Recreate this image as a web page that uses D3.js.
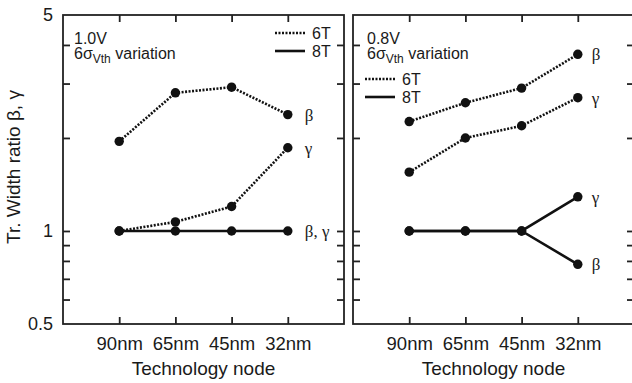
<!DOCTYPE html>
<html><head><meta charset="utf-8">
<script src="https://cdn.jsdelivr.net/npm/d3@7"></script>
<style>
body{margin:0;background:#fff;}
svg{display:block;}
text{fill:#1a1a1a;}
</style></head>
<body>
<svg id="c" width="632" height="383"></svg>
<script>
// ---- data ----
const nodes = ["90nm", "65nm", "45nm", "32nm"];
const left6TBeta = [1.95, 2.80, 2.92, 2.38];
const left6TGamma = [1.00, 1.07, 1.20, 1.86];
const left8T = [1.00, 1.00, 1.00, 1.00];
const right6TBeta = [2.26, 2.60, 2.90, 3.73];
const right6TGamma = [1.55, 2.00, 2.19, 2.70];
const right8TBeta = [1.00, 1.00, 1.00, 0.78];
const right8TGamma = [1.00, 1.00, 1.00, 1.29];
const yTickValues = [0.6, 0.7, 0.8, 0.9, 1, 2, 3, 4];
const yTickLabels = [0.5, 1, 5];

const svg = d3.select("#c");
const W = 281, H = 309;
const x = d3.scalePoint().domain(nodes).range([0, W]).padding(1);
const y = d3.scaleLog().domain([0.5, 5]).range([H, 0]);
const sans = "'Liberation Sans', Arial, Helvetica, sans-serif";
const serif = "'Liberation Serif', 'Times New Roman', serif";

function panel(tx, cfg) {
  const g = svg.append("g").attr("transform", `translate(${tx},15)`);
  // ticks (inward)
  const tickStyle = sel => { sel.select(".domain").remove(); sel.selectAll(".tick line").attr("stroke", "#222").attr("stroke-width", 1.8); };
  g.append("g").call(d3.axisLeft(y).tickValues(yTickValues).tickSize(-7).tickFormat("")).call(tickStyle);
  g.append("g").attr("transform", `translate(${W},0)`).call(d3.axisRight(y).tickValues(yTickValues).tickSize(-7).tickFormat("")).call(tickStyle);
  g.append("g").call(d3.axisTop(x).tickSize(-7).tickFormat("")).call(tickStyle);
  const bx = g.append("g").attr("transform", `translate(0,${H})`).call(d3.axisBottom(x).tickSize(-7).tickPadding(13)).call(tickStyle);
  bx.selectAll("text").attr("font-family", sans).attr("font-size", "18.5px").attr("fill", "#1a1a1a");
  if (cfg.yLabels) {
    const ly = g.append("g").call(d3.axisLeft(y).tickValues(yTickLabels).tickSize(0).tickPadding(10).tickFormat(d3.format("")));
    ly.select(".domain").remove();
    ly.selectAll("text").attr("font-family", sans).attr("font-size", "18px").attr("fill", "#1a1a1a");
  }
  // frame
  g.append("rect").attr("x", 0).attr("y", 0).attr("width", W).attr("height", H)
    .attr("fill", "none").attr("stroke", "#222").attr("stroke-width", 1.8);
  // x title
  g.append("text").attr("x", W / 2).attr("y", 360).attr("text-anchor", "middle")
    .attr("font-family", sans).attr("font-size", "19px").text("Technology node");
  // annotation
  const a = g.append("text").attr("x", cfg.annX).attr("y", 29).attr("font-family", sans).attr("font-size", "16px");
  a.text(cfg.volt);
  const b = g.append("text").attr("x", cfg.annX).attr("y", 44).attr("font-family", sans).attr("font-size", "16px");
  b.append("tspan").text("6σ");
  b.append("tspan").attr("font-size", "12px").attr("dy", 4).text("Vth");
  b.append("tspan").attr("dy", -4).text(" variation");
  // legend
  const L = cfg.legend;
  g.append("line").attr("x1", L.x).attr("x2", L.x + 30).attr("y1", L.y).attr("y2", L.y)
    .attr("stroke", "#111").attr("stroke-width", 2.6).attr("stroke-dasharray", "2,1.5");
  g.append("text").attr("x", L.x + 37).attr("y", L.y + 6).attr("font-family", sans).attr("font-size", "16px").text("6T");
  g.append("line").attr("x1", L.x).attr("x2", L.x + 30).attr("y1", L.y + 18).attr("y2", L.y + 18)
    .attr("stroke", "#111").attr("stroke-width", 2.6);
  g.append("text").attr("x", L.x + 37).attr("y", L.y + 24).attr("font-family", sans).attr("font-size", "16px").text("8T");
  // series
  const line = d3.line().x((d, i) => x(nodes[i])).y(d => y(d));
  cfg.series.forEach(s => {
    g.append("path").datum(s.values).attr("d", line).attr("fill", "none")
      .attr("stroke", "#111").attr("stroke-width", 2.6)
      .attr("stroke-dasharray", s.dotted ? "2,1.5" : null);
  });
  cfg.series.forEach(s => {
    g.selectAll(null).data(s.values).enter().append("circle")
      .attr("cx", (d, i) => x(nodes[i])).attr("cy", d => y(d)).attr("r", 4.7).attr("fill", "#111");
  });
  cfg.tags.forEach(t => {
    g.append("text").attr("x", x(nodes[3]) + cfg.tagDx).attr("y", y(t.v)).attr("dy", "0.35em")
      .attr("font-family", serif).attr("font-size", "17px").text(t.text);
  });
}

panel(63, {
  yLabels: true, volt: "1.0V", annX: 11,
  legend: { x: 212, y: 18 },
  series: [
    { values: left6TBeta, dotted: true },
    { values: left6TGamma, dotted: true },
    { values: left8T, dotted: false }
  ],
  tagDx: 17,
  tags: [
    { v: left6TBeta[3], text: "β" },
    { v: left6TGamma[3], text: "γ" },
    { v: left8T[3], text: "β, γ" }
  ]
});

panel(353, {
  yLabels: false, volt: "0.8V", annX: 14,
  legend: { x: 12, y: 64 },
  series: [
    { values: right6TBeta, dotted: true },
    { values: right6TGamma, dotted: true },
    { values: right8TBeta, dotted: false },
    { values: right8TGamma, dotted: false }
  ],
  tagDx: 14,
  tags: [
    { v: right6TBeta[3], text: "β" },
    { v: right6TGamma[3], text: "γ" },
    { v: right8TGamma[3], text: "γ" },
    { v: right8TBeta[3], text: "β" }
  ]
});

// y axis title
svg.append("text").attr("transform", "translate(20,167) rotate(-90)").attr("text-anchor", "middle")
  .attr("font-family", sans).attr("font-size", "19px").text("Tr. Width ratio β, γ");
</script>
</body></html>
